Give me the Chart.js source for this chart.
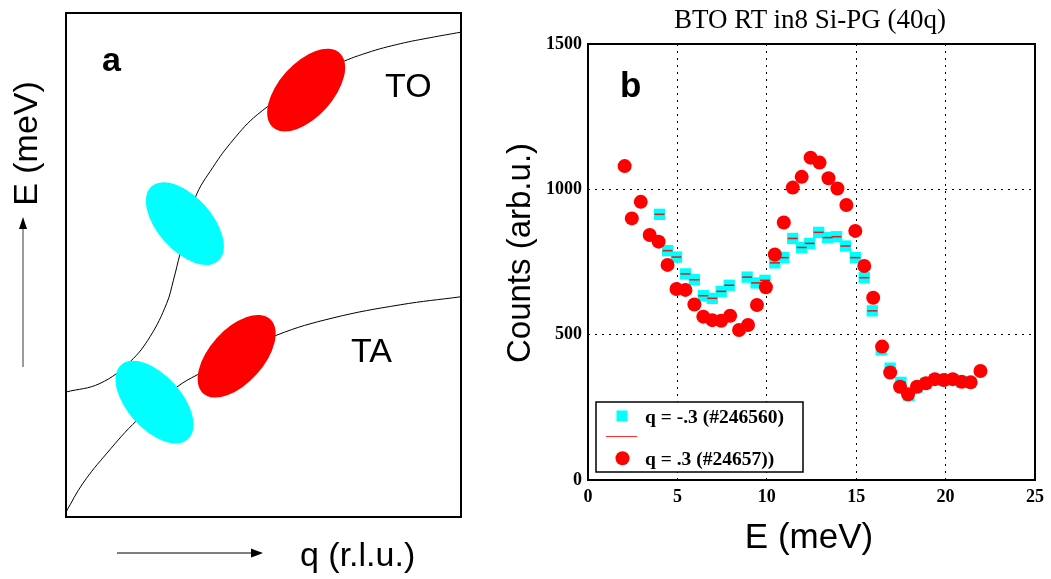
<!DOCTYPE html>
<html>
<head>
<meta charset="utf-8">
<script src="https://cdn.jsdelivr.net/npm/chart.js@4.4.1/dist/chart.umd.min.js"></script>
<style>
html, body { margin: 0; padding: 0; background: #fff; }
#wrap { position: relative; width: 1051px; height: 579px; overflow: hidden; }
#panelA { position: absolute; left: 0; top: 0; }
#panelB { position: absolute; left: 480px; top: 0; }
#overlay { position: absolute; left: 0; top: 0; }
</style>
</head>
<body>
<div id="wrap">
  <canvas id="panelA" width="480" height="579"></canvas>
  <canvas id="panelB" width="571" height="579"></canvas>
  <svg id="overlay" width="1051" height="579">
    <!-- panel a labels -->
    <text x="102" y="71" font-family="Liberation Sans" font-weight="bold" font-size="34">a</text>
    <text x="385" y="97" font-family="Liberation Sans" font-size="34">TO</text>
    <text x="351" y="362" font-family="Liberation Sans" font-size="34">TA</text>
    <text transform="translate(37,143.5) rotate(-90)" text-anchor="middle" font-family="Liberation Sans" font-size="34">E (meV)</text>
    <line x1="23" y1="367" x2="23" y2="228" stroke="#666" stroke-width="1.3"/>
    <polygon points="23,217 19,229 27,229" fill="#000"/>
    <text x="300" y="566" font-family="Liberation Sans" font-size="34">q (r.l.u.)</text>
    <line x1="117" y1="553" x2="253" y2="553" stroke="#000" stroke-width="1.2"/>
    <polygon points="263,553 251,548.5 251,557.5" fill="#000"/>
    <!-- panel b labels -->
    <text x="810" y="28" text-anchor="middle" font-family="Liberation Serif" font-size="27">BTO RT in8 Si-PG (40q)</text>
    <text x="620" y="97" font-family="Liberation Sans" font-weight="bold" font-size="35">b</text>
    <text transform="translate(530,253) rotate(-90)" text-anchor="middle" font-family="Liberation Sans" font-size="33">Counts (arb.u.)</text>
    <text x="809" y="548" text-anchor="middle" font-family="Liberation Sans" font-size="35">E (meV)</text>
    <!-- legend -->
    <rect x="596" y="402" width="207" height="70" fill="#fff" stroke="#000" stroke-width="1.5"/>
    <rect x="616.5" y="410.5" width="11" height="11" fill="#00ffff"/>
    <line x1="606" y1="436.5" x2="637" y2="436.5" stroke="#ff3030" stroke-width="1"/>
    <circle cx="622.5" cy="458.3" r="7" fill="#ff0000"/>
    <text x="645" y="423" font-family="Liberation Serif" font-weight="bold" font-size="19.5">q = -.3 (#246560)</text>
    <text x="645" y="465" font-family="Liberation Serif" font-weight="bold" font-size="19.5">q = .3 (#24657))</text>
  </svg>
</div>
<script>
// ---- panel a: schematic dispersion (arbitrary units 0..100) ----
const toQ = [0, 8.6, 16.2, 21.3, 25.5, 27.2, 28.9, 32.7, 37.2, 42.3, 48.4, 58.2, 68.4, 76.2, 84.6, 92.2, 100];
const toE = [24.8, 26.5, 30.8, 35.8, 42.4, 47.0, 52.3, 63.3, 69.4, 74.8, 79.8, 85.1, 89.7, 92.1, 93.9, 95.1, 96.2];
const taQ = [0, 4.3, 10.4, 18.0, 28.1, 33.2, 43.3, 53.4, 67.6, 84.6, 100];
const taE = [1.0, 6.7, 12.7, 19.2, 25.8, 28.2, 32.1, 36.1, 39.5, 42.1, 43.7];
// resolution ellipses (centre q, centre E, colour)
const ellQ = [60.8, 30.1, 22.4, 43.2];
const ellE = [84.7, 58.2, 22.8, 31.9];
const ellColor = ['#ff0000', '#00ffff', '#00ffff', '#ff0000'];

// ---- panel b: measured scans ----
const redE = [2.05, 2.45, 2.95, 3.45, 3.95, 4.45, 4.95, 5.45, 5.95, 6.45, 6.95, 7.45, 7.95, 8.45, 8.95, 9.45, 9.95,
  10.45, 10.95, 11.45, 11.95, 12.45, 12.95, 13.45, 13.95, 14.45, 14.95, 15.45, 15.95, 16.45, 16.9, 17.45, 17.9,
  18.4, 18.9, 19.4, 19.9, 20.4, 20.9, 21.4, 21.95];
const redCounts = [1080, 900, 957, 843, 820, 740, 657, 654, 604, 562, 550, 548, 565, 516, 533, 602, 663,
  776, 886, 1006, 1043, 1109, 1092, 1038, 1003, 946, 857, 736, 627, 459, 370, 321, 295,
  321, 333, 347, 344, 347, 338, 336, 375];
const cyanE = [4.0, 4.45, 4.95, 5.45, 5.95, 6.45, 6.95, 7.45, 7.9, 8.9, 9.4, 9.9, 10.45, 10.95, 11.45, 11.95,
  12.4, 12.9, 13.4, 13.9, 14.4, 14.95, 15.45, 15.9, 16.4, 16.9, 17.5, 17.95, 18.4, 18.9, 19.4, 19.9, 20.4, 20.9, 21.4];
const cyanCounts = [914, 789, 767, 709, 689, 634, 625, 649, 670, 698, 678, 687, 747, 765, 831, 800,
  814, 852, 834, 837, 805, 765, 696, 582, 448, 385, 336, 290, 318, 333, 345, 342, 345, 337, 335];
const xTicks = [0, 5, 10, 15, 20, 25];
const yTicks = [0, 500, 1000, 1500];

function pts(xs, ys) { return xs.map((x, i) => ({x: x, y: ys[i]})); }

const framePlugin = {
  id: 'frame',
  afterDraw(chart) {
    const a = chart.chartArea, c = chart.ctx;
    c.save();
    c.setLineDash([]);
    c.lineWidth = 2;
    c.strokeStyle = '#000';
    c.strokeRect(a.left, a.top, a.right - a.left, a.bottom - a.top);
    c.restore();
  }
};

const ellipsePlugin = {
  id: 'ellipses',
  afterDatasetsDraw(chart) {
    const c = chart.ctx, xs = chart.scales.x, ys = chart.scales.y;
    c.save();
    for (let i = 0; i < ellQ.length; i++) {
      const px = xs.getPixelForValue(ellQ[i]);
      const py = ys.getPixelForValue(ellE[i]);
      const ang = (ellColor[i] === '#ff0000' ? -48 : 48) * Math.PI / 180;
      c.beginPath();
      c.ellipse(px, py, 50, 27, ang, 0, 2 * Math.PI);
      c.fillStyle = ellColor[i];
      c.fill();
    }
    c.restore();
  }
};

new Chart(document.getElementById('panelA'), {
  type: 'line',
  data: {
    datasets: [
      {data: pts(toQ, toE), borderColor: '#000', borderWidth: 1, pointRadius: 0, tension: 0.4, fill: false},
      {data: pts(taQ, taE), borderColor: '#000', borderWidth: 1, pointRadius: 0, tension: 0.4, fill: false}
    ]
  },
  options: {
    responsive: false,
    animation: false,
    events: [],
    layout: {padding: {left: 66, right: 19, top: 13, bottom: 62}},
    scales: {
      x: {type: 'linear', min: 0, max: 100, display: false},
      y: {type: 'linear', min: 0, max: 100, display: false}
    },
    plugins: {legend: {display: false}, tooltip: {enabled: false}}
  },
  plugins: [ellipsePlugin, framePlugin]
});

const tickFont = {family: 'Liberation Serif', size: 18, weight: 'bold'};
const gridColor = (lo, hi) => ctx => (ctx.tick.value === lo || ctx.tick.value === hi) ? 'rgba(0,0,0,0)' : '#000';

new Chart(document.getElementById('panelB'), {
  type: 'scatter',
  data: {
    datasets: [
      {
        label: 'q = -.3 (#246560)',
        data: pts(cyanE, cyanCounts),
        pointStyle: 'rect',
        pointRadius: 8,
        pointBackgroundColor: '#00ffff',
        pointBorderWidth: 0,
        order: 3
      },
      {
        label: '',
        data: pts(cyanE, cyanCounts),
        pointStyle: 'line',
        pointRadius: 5,
        pointBorderColor: '#e01818',
        pointBorderWidth: 1.5,
        order: 2
      },
      {
        label: 'q = .3 (#24657))',
        data: pts(redE, redCounts),
        pointStyle: 'circle',
        pointRadius: 7,
        pointBackgroundColor: '#ff0000',
        pointBorderWidth: 0,
        order: 1
      }
    ]
  },
  options: {
    responsive: false,
    animation: false,
    events: [],
    layout: {padding: {top: 44, right: 14, left: 0, bottom: 0}},
    scales: {
      x: {
        type: 'linear', min: 0, max: 25,
        afterBuildTicks: s => { s.ticks = xTicks.map(v => ({value: v})); },
        ticks: {font: tickFont, color: '#000', padding: 7, maxRotation: 0, callback: v => String(v)},
        grid: {color: gridColor(0, 25), lineWidth: 1, drawTicks: false},
        border: {display: false, dash: [2, 5]},
        afterFit: s => { s.height = 99; }
      },
      y: {
        type: 'linear', min: 0, max: 1500,
        afterBuildTicks: s => { s.ticks = yTicks.map(v => ({value: v})); },
        ticks: {font: tickFont, color: '#000', padding: 6, callback: v => String(v)},
        grid: {color: gridColor(0, 1500), lineWidth: 1, drawTicks: false},
        border: {display: false, dash: [2, 5]},
        afterFit: s => { s.width = 108; }
      }
    },
    plugins: {legend: {display: false}, tooltip: {enabled: false}}
  },
  plugins: [framePlugin]
});
</script>
</body>
</html>
